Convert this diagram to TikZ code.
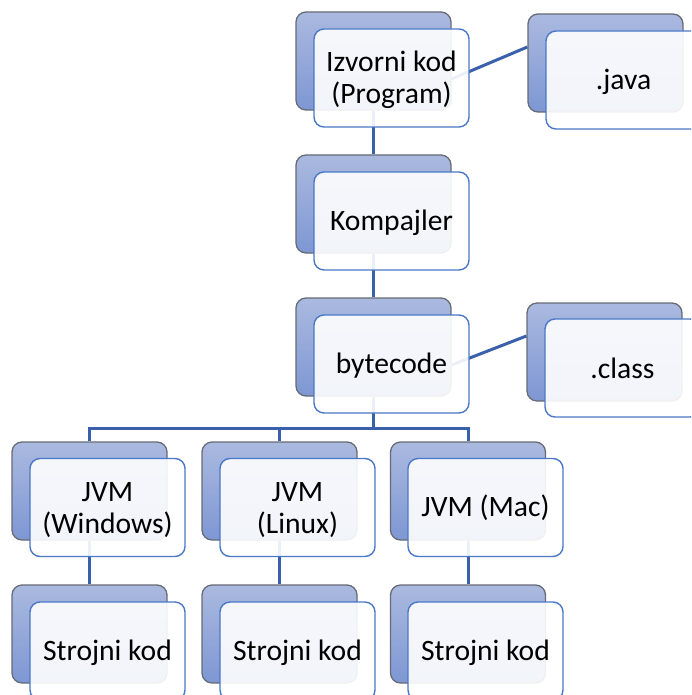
\documentclass[tikz,border=0pt]{standalone}
\usepackage{fontspec}
\setmainfont{Carlito}
\definecolor{backtop}{HTML}{AAB9DF}
\definecolor{backbot}{HTML}{7E97D3}
\definecolor{backedge}{HTML}{666B75}
\definecolor{frontedge}{HTML}{4A78C8}
\definecolor{linkcol}{HTML}{3A60AC}
\newcommand\liftto[1]{\rule{0pt}{#1pt}}
\tikzset{
  backbox/.style={draw=backedge,line width=1.3pt,rounded corners=10pt,minimum width=155pt,minimum height=98pt,inner sep=0pt,top color=backtop,bottom color=backbot,anchor=center},
  frontbox/.style={draw=frontedge,line width=1.4pt,rounded corners=10pt,minimum width=155pt,minimum height=98pt,inner sep=0pt,fill=white,fill opacity=.9,text opacity=1,text=black,align=center,font=\fontsize{29.6pt}{32pt}\selectfont,anchor=center},
  link/.style={draw=linkcol,line width=3pt}
}
\begin{document}
\begin{tikzpicture}[x=1pt,y=-1pt]
\useasboundingbox (0,0) rectangle (691,695);
\clip (0,0) rectangle (691,695);
% back boxes
\node[backbox] (b1) at (373.5,61) {};
\node[backbox] (b2) at (605.5,63) {};
\node[backbox] (b3) at (373.5,204) {};
\node[backbox] (b4) at (373.5,347) {};
\node[backbox] (b5) at (604.5,352) {};
\node[backbox] (j1) at (89.5,491) {};
\node[backbox] (j2) at (279.5,491) {};
\node[backbox] (j3) at (468,491) {};
\node[backbox] (s1) at (89.5,634) {};
\node[backbox] (s2) at (279.5,634) {};
\node[backbox] (s3) at (468,634) {};
% connectors
\coordinate (bus) at (373.5,428);
\draw[link] (b1.south) -- (b3.north);
\draw[link] (b3.south) -- (b4.north);
\draw[link] ([yshift=-18pt]b1.east) -- ([yshift=16pt]b2.west);
\draw[link] ([yshift=-18pt]b4.east) -- ([yshift=16pt]b5.west);
\draw[link] (b4.south) -- (bus);
\draw[link] (bus) -| (j1.north);
\draw[link] (bus) -| (j2.north);
\draw[link] (bus) -| (j3.north);
\draw[link] (j1.south) -- (s1.north);
\draw[link] (j2.south) -- (s2.north);
\draw[link] (j3.south) -- (s3.north);
% front boxes
\node[frontbox] (f1) at (391.5,78) {\liftto{24}Izvorni kod\\(Program)};
\node[frontbox] (f2) at (623.5,80) {\liftto{25}.java};
\node[frontbox] (f3) at (391.5,221) {\liftto{24}Kompajler};
\node[frontbox] (f4) at (391.5,364) {\liftto{24}bytecode};
\node[frontbox] (f5) at (622.5,368) {.class};
\node[frontbox] (fj1) at (107.5,507.5) {\liftto{24}JVM\\(Windows)};
\node[frontbox] (fj2) at (297.5,507.5) {\liftto{24}JVM\\(Linux)};
\node[frontbox] (fj3) at (485.5,507.5) {\liftto{23}JVM (Mac)};
\node[frontbox] (fs1) at (107.5,651) {\liftto{24}Strojni kod};
\node[frontbox] (fs2) at (297.5,651) {\liftto{24}Strojni kod};
\node[frontbox] (fs3) at (485.5,651) {\liftto{24}Strojni kod};
\end{tikzpicture}
\end{document}
